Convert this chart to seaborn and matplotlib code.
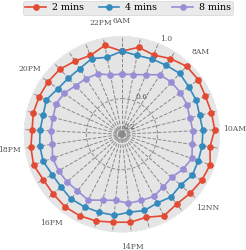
import numpy as np
import pandas as pd
import matplotlib
matplotlib.use('Agg')
import matplotlib.pyplot as plt
import seaborn as sns

plt.style.use('ggplot')
plt.rcParams['font.family'] = 'DejaVu Serif'

# 33 half-hour slots from 6:00 to 22:00, labels every 2 hours
n_slots = 33
hour_labels = ['6AM', '8AM', '10AM', '12NN', '14PM', '16PM', '18PM', '20PM', '22PM']

mins_2 = [0.917, 0.947, 0.930, 0.954, 0.975, 0.975, 0.964, 0.966, 0.970, 0.949, 0.973,
          0.966, 0.956, 0.948, 0.964, 0.936, 0.946, 0.946, 0.957, 0.964, 0.966, 0.960,
          0.959, 0.973, 0.965, 0.954, 0.961, 0.959, 0.958, 0.954, 0.938, 0.927, 0.957]
mins_4 = [0.917, 0.902, 0.906, 0.911, 0.922, 0.911, 0.910, 0.900, 0.906, 0.906, 0.905,
          0.908, 0.887, 0.898, 0.885, 0.897, 0.891, 0.908, 0.907, 0.909, 0.913, 0.903,
          0.903, 0.918, 0.917, 0.911, 0.906, 0.917, 0.892, 0.886, 0.889, 0.908, 0.891]
mins_8 = [0.781, 0.784, 0.806, 0.846, 0.853, 0.853, 0.851, 0.841, 0.849, 0.849, 0.866,
          0.844, 0.816, 0.823, 0.841, 0.836, 0.838, 0.820, 0.834, 0.866, 0.853, 0.858,
          0.860, 0.862, 0.844, 0.849, 0.847, 0.857, 0.847, 0.824, 0.819, 0.812, 0.782]

series = {'2 mins': mins_2, '4 mins': mins_4, '8 mins': mins_8}
colors = ['#E24A33', '#348ABD', '#988ED5']

theta = 2 * np.pi * np.arange(n_slots) / n_slots

# close each loop by repeating the first point
frames = []
for name, vals in series.items():
    frames.append(pd.DataFrame({'theta': np.append(theta, 2 * np.pi),
                                'value': np.append(vals, vals[0]),
                                'series': name}))
df = pd.concat(frames, ignore_index=True)

fig = plt.figure(figsize=(2.46, 2.5), dpi=100)
ax = fig.add_axes([0.093, 0.068, 0.805, 0.79], projection='polar')
ax.set_theta_zero_location('N')
ax.set_theta_direction(-1)
ax.set_rscale('function', functions=(lambda r: r ** 2, lambda r: np.sqrt(np.clip(r, 0, None))))

sns.lineplot(data=df, x='theta', y='value', hue='series', palette=colors,
             marker='o', markersize=4.8, markeredgewidth=0, linewidth=1.2,
             sort=False, estimator=None, ax=ax)

ax.set_ylim(0, 1)
ax.set_yticks([0.2, 0.6, 1.0])
ax.set_yticklabels(['0.2', '0.6', '1.0'])
ax.set_rlabel_position(22.5)
ax.set_xticks(theta)
ax.set_xticklabels([hour_labels[i // 4] if i % 4 == 0 else '' for i in range(n_slots)])
ax.set_xlabel('')
ax.set_ylabel('')
ax.grid(True, color='#8a8a8a', linestyle='--', linewidth=0.7)
ax.tick_params(labelsize=5.5, colors='#555555')
ax.tick_params(axis='x', pad=0)

handles, labels = ax.get_legend_handles_labels()
ax.get_legend().remove()
fig.legend(handles, labels, loc='upper center', bbox_to_anchor=(0.52, 1.0), ncol=3,
           fontsize=6.8, handlelength=2.2, columnspacing=1.6, handletextpad=0.6,
           frameon=True, borderpad=0.25, borderaxespad=0.1)

fig.savefig('out.png', dpi=100)
